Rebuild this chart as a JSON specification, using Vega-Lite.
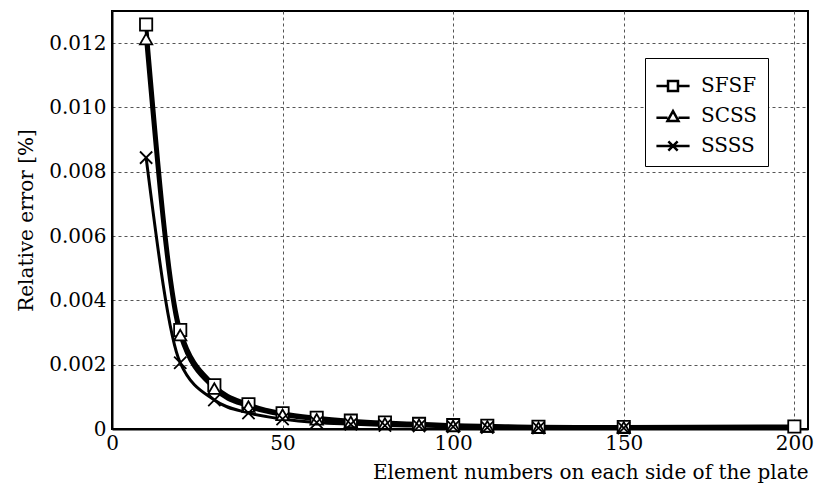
{
  "$schema": "https://vega.github.io/schema/vega-lite/v6.json",
  "width": 696,
  "height": 418,
  "autosize": "none",
  "padding": {"left": 112, "top": 11, "right": 14, "bottom": 58},
  "background": "white",
  "config": {
    "font": "DejaVu Serif",
    "view": {"stroke": "black", "strokeWidth": 2},
    "axis": {
      "labelFont": "DejaVu Serif",
      "titleFont": "DejaVu Serif",
      "labelFontSize": 20,
      "titleFontSize": 20,
      "labelColor": "black",
      "titleColor": "black",
      "titleFontWeight": "normal",
      "gridColor": "#555555",
      "gridDash": [3, 3],
      "gridWidth": 1,
      "gridOpacity": 1,
      "domainColor": "black",
      "domainWidth": 2,
      "tickColor": "black",
      "tickSize": 4
    }
  },
  "data": {
    "values": [
      {"series": "SFSF", "n": 10, "err": 0.01258},
      {"series": "SFSF", "n": 20, "err": 0.00308},
      {"series": "SFSF", "n": 30, "err": 0.00136},
      {"series": "SFSF", "n": 40, "err": 0.00077},
      {"series": "SFSF", "n": 50, "err": 0.00049},
      {"series": "SFSF", "n": 60, "err": 0.00035},
      {"series": "SFSF", "n": 70, "err": 0.00026},
      {"series": "SFSF", "n": 80, "err": 0.0002},
      {"series": "SFSF", "n": 90, "err": 0.00016},
      {"series": "SFSF", "n": 100, "err": 0.00012},
      {"series": "SFSF", "n": 110, "err": 0.0001},
      {"series": "SFSF", "n": 125, "err": 0.00007},
      {"series": "SFSF", "n": 150, "err": 0.00006},
      {"series": "SFSF", "n": 200, "err": 0.00008},
      {"series": "SCSS", "n": 10, "err": 0.01213},
      {"series": "SCSS", "n": 20, "err": 0.00292},
      {"series": "SCSS", "n": 30, "err": 0.00126},
      {"series": "SCSS", "n": 40, "err": 0.0007},
      {"series": "SCSS", "n": 50, "err": 0.00044},
      {"series": "SCSS", "n": 60, "err": 0.0003},
      {"series": "SCSS", "n": 70, "err": 0.00022},
      {"series": "SCSS", "n": 80, "err": 0.00017},
      {"series": "SCSS", "n": 90, "err": 0.00013},
      {"series": "SCSS", "n": 100, "err": 0.0001},
      {"series": "SCSS", "n": 110, "err": 0.00008},
      {"series": "SCSS", "n": 125, "err": 0.00004},
      {"series": "SCSS", "n": 150, "err": 0.00005},
      {"series": "SSSS", "n": 10, "err": 0.00844},
      {"series": "SSSS", "n": 20, "err": 0.00206},
      {"series": "SSSS", "n": 30, "err": 0.0009},
      {"series": "SSSS", "n": 40, "err": 0.0005},
      {"series": "SSSS", "n": 50, "err": 0.00031},
      {"series": "SSSS", "n": 60, "err": 0.0002},
      {"series": "SSSS", "n": 70, "err": 0.00015},
      {"series": "SSSS", "n": 80, "err": 0.00011},
      {"series": "SSSS", "n": 90, "err": 0.00009},
      {"series": "SSSS", "n": 100, "err": 0.00007},
      {"series": "SSSS", "n": 110, "err": 0.00005},
      {"series": "SSSS", "n": 125, "err": 0.00003},
      {"series": "SSSS", "n": 150, "err": 0.00003}
    ]
  },
  "encoding": {
    "x": {
      "field": "n",
      "type": "quantitative",
      "scale": {"domain": [0, 204], "nice": false},
      "axis": {
        "values": [0, 50, 100, 150, 200],
        "title": "Element numbers on each side of the plate",
        "titleAnchor": "end",
        "titlePadding": 9,
        "labelPadding": 4,
        "tickSize": 0,
        "labelFlush": false
      }
    },
    "y": {
      "field": "err",
      "type": "quantitative",
      "scale": {"domain": [0, 0.013], "nice": false},
      "axis": {
        "values": [0, 0.002, 0.004, 0.006, 0.008, 0.01, 0.012],
        "labelExpr": "datum.value == 0 ? '0' : format(datum.value, '.3f')",
        "title": "Relative error [%]",
        "titlePadding": 12,
        "labelPadding": 6,
        "tickSize": 0,
        "labelFlush": false
      }
    }
  },
  "layer": [
    {
      "transform": [{"filter": "datum.series !== 'SSSS'"}],
      "mark": {"type": "line", "interpolate": "monotone", "color": "black", "strokeWidth": 4},
      "encoding": {"detail": {"field": "series"}}
    },
    {
      "transform": [{"filter": "datum.series === 'SSSS'"}],
      "mark": {"type": "line", "interpolate": "monotone", "color": "black", "strokeWidth": 3},
      "encoding": {}
    },
    {
      "mark": {"type": "point", "filled": false, "color": "black", "fill": "white", "fillOpacity": 1, "opacity": 1, "strokeWidth": 1.8, "size": 150},
      "encoding": {
        "shape": {
          "field": "series",
          "type": "nominal",
          "scale": {
            "domain": ["SFSF", "SCSS", "SSSS"],
            "range": ["square", "triangle-up", "M-1,-1L1,1M-1,1L1,-1"]
          },
          "legend": null
        }
      }
    },
    {
      "mark": {"type": "point", "filled": false, "color": "black", "size": 0, "strokeWidth": 2.5},
      "encoding": {
        "shape": {
          "field": "series",
          "type": "nominal",
          "scale": {
            "domain": ["SFSF", "SCSS", "SSSS"],
            "range": [
              "M-1,0L-0.3,0M0.3,0L1,0M-0.3,-0.3L0.3,-0.3L0.3,0.3L-0.3,0.3Z",
              "M-1,0.1L-0.33,0.1M0.33,0.1L1,0.1M-0.33,0.3L0,-0.3L0.33,0.3Z",
              "M-1,0L1,0M-0.28,-0.28L0.28,0.28M-0.28,0.28L0.28,-0.28"
            ]
          },
          "legend": {
            "title": null,
            "orient": "none",
            "legendX": 533,
            "legendY": 47,
            "padding": 10,
            "strokeColor": "black",
            "fillColor": "white",
            "labelFont": "DejaVu Serif",
            "labelFontSize": 20,
            "labelColor": "black",
            "symbolSize": 1100,
            "symbolStrokeWidth": 2.5,
            "symbolStrokeColor": "black",
            "symbolFillColor": "white",
            "symbolOpacity": 1,
            "rowPadding": 2,
            "labelOffset": 10
          }
        }
      }
    }
  ],
  "resolve": {"scale": {"shape": "independent"}, "legend": {"shape": "independent"}}
}
